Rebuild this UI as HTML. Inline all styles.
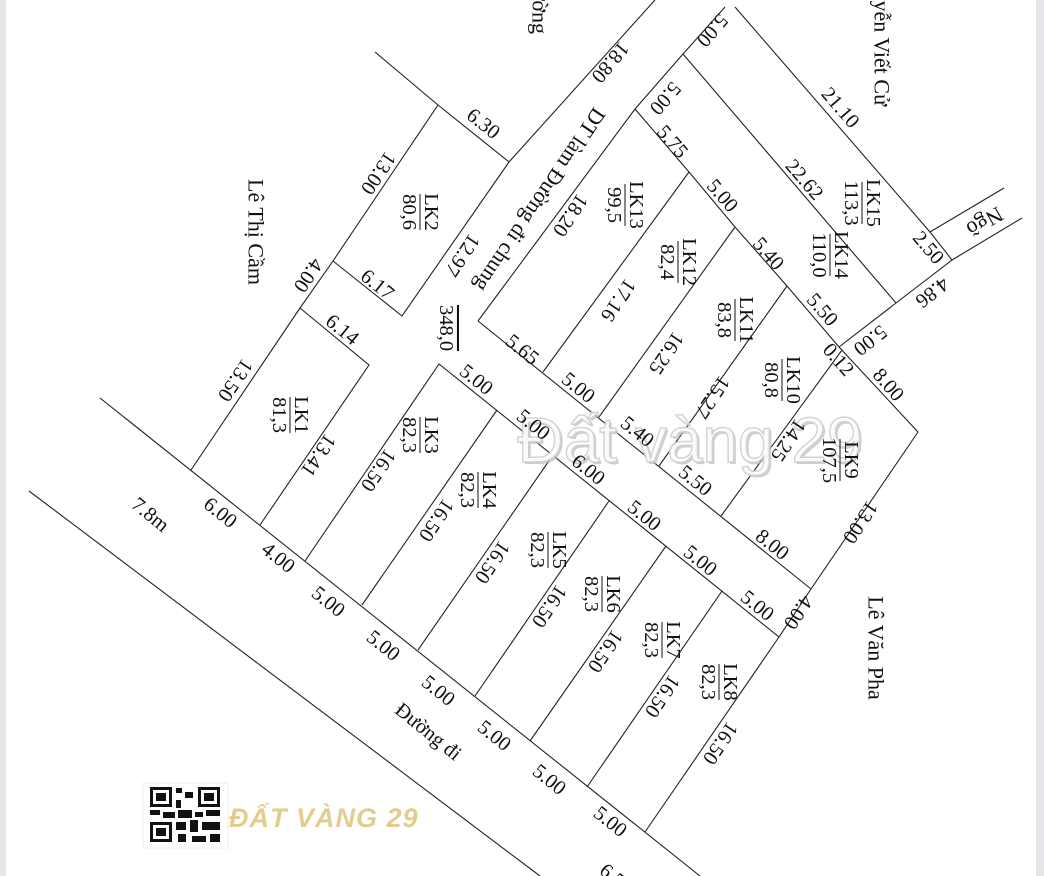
<!DOCTYPE html>
<html><head><meta charset="utf-8"><style>
html,body{margin:0;padding:0;background:#fff;}
svg{display:block;}
text{font-family:"Liberation Serif",serif;font-size:20.5px;fill:#111;}
.w{font-family:"Liberation Sans","DejaVu Sans",sans-serif;}
.s{font-size:22px;}
</style></head><body>
<svg width="1044" height="876" viewBox="0 0 1044 876" xmlns="http://www.w3.org/2000/svg">
<rect x="0" y="0" width="1044" height="876" fill="#fff"/>
<rect x="0" y="0" width="6" height="876" fill="#e6e6ea"/>
<rect x="1036" y="0" width="8" height="876" fill="#e6e6ea"/>
<g stroke="#222" stroke-width="1.1" fill="none">
<polyline points="375,52 438,105 509,162"/>
<polyline points="438,105 333,261 300,308 191,470"/>
<polyline points="333,261 402,316 509,162"/>
<polyline points="300,308 369,365 260,525"/>
<line x1="509" y1="162" x2="655" y2="0"/>
<line x1="100" y1="398" x2="700" y2="876"/>
<line x1="29" y1="491" x2="540" y2="876"/>
<polyline points="305,561 439,364 779,637 811,589 918,432"/>
<line x1="362" y1="605" x2="497" y2="410"/>
<line x1="418" y1="650" x2="553" y2="455"/>
<line x1="475" y1="696" x2="609" y2="501"/>
<line x1="530" y1="741" x2="666" y2="546"/>
<line x1="587" y1="787" x2="722" y2="591"/>
<line x1="645" y1="832" x2="779" y2="637"/>
<polyline points="478,321 635,109 683,54 725,7"/>
<line x1="478" y1="321" x2="811" y2="589"/>
<polyline points="635,109 689,172 735,227 787,286 839,347 918,432"/>
<line x1="683" y1="54" x2="896" y2="303"/>
<polyline points="735,7 930,232 952,260 896,303 839,347"/>
<line x1="930" y1="232" x2="1004" y2="188"/>
<line x1="952" y1="260" x2="1022" y2="218"/>
<line x1="689" y1="172" x2="543" y2="372"/>
<line x1="735" y1="227" x2="599" y2="417"/>
<line x1="787" y1="286" x2="659" y2="466"/>
<line x1="842" y1="350" x2="721" y2="516"/>
</g>
<text x="692" y="464" class="w" text-anchor="middle" style="font-size:64px;fill:#bbb;opacity:0.7">Đất vàng 29</text>
<text x="690" y="462" class="w" text-anchor="middle" style="font-size:64px;fill:#fff;stroke:#d0d0d0;stroke-width:1.5;opacity:0.9">Đất vàng 29</text>

<g>
<text class="s" transform="translate(256,232) rotate(90)" text-anchor="middle" dominant-baseline="central">Lê Thị Cầm</text>
<text class="s" transform="translate(876,648) rotate(90)" text-anchor="middle" dominant-baseline="central">Lê Văn Pha</text>
<text class="s" transform="translate(882,106) rotate(90)" text-anchor="end" dominant-baseline="central">Nguyễn Viết Cử</text>
<text class="s" transform="translate(540,34) rotate(90)" text-anchor="end" dominant-baseline="central">Đường</text>
<text class="s" transform="translate(540,200) rotate(124)" text-anchor="middle" dominant-baseline="central">DT làm Đường đi chung</text>
<text class="s" transform="translate(985,222) rotate(150)" text-anchor="middle" dominant-baseline="central">Ngõ</text>
<text transform="translate(150,515) rotate(39)" text-anchor="middle" dominant-baseline="central">7.8m</text>
<text transform="translate(428,732) rotate(39)" text-anchor="middle" dominant-baseline="central">Đường đi</text>
<text transform="translate(612,876) rotate(39)" text-anchor="middle" dominant-baseline="central">6.5</text>
<text transform="translate(446,328) rotate(90)" text-anchor="middle" dominant-baseline="central" style="text-decoration:overline">348,0</text>
</g>

<g text-anchor="middle" dominant-baseline="central">
<g transform="translate(420,212) rotate(90)"><text y="-11">LK2</text><line x1="-18" x2="18" y1="0" y2="0" stroke="#111"/><text y="11">80,6</text></g>
<g transform="translate(290,415) rotate(90)"><text y="-11">LK1</text><line x1="-18" x2="18" y1="0" y2="0" stroke="#111"/><text y="11">81,3</text></g>
<g transform="translate(420,435) rotate(90)"><text y="-11">LK3</text><line x1="-18" x2="18" y1="0" y2="0" stroke="#111"/><text y="11">82,3</text></g>
<g transform="translate(478,490) rotate(90)"><text y="-11">LK4</text><line x1="-18" x2="18" y1="0" y2="0" stroke="#111"/><text y="11">82,3</text></g>
<g transform="translate(548,550) rotate(90)"><text y="-11">LK5</text><line x1="-18" x2="18" y1="0" y2="0" stroke="#111"/><text y="11">82,3</text></g>
<g transform="translate(602,594) rotate(90)"><text y="-11">LK6</text><line x1="-18" x2="18" y1="0" y2="0" stroke="#111"/><text y="11">82,3</text></g>
<g transform="translate(662,640) rotate(90)"><text y="-11">LK7</text><line x1="-18" x2="18" y1="0" y2="0" stroke="#111"/><text y="11">82,3</text></g>
<g transform="translate(719,682) rotate(90)"><text y="-11">LK8</text><line x1="-18" x2="18" y1="0" y2="0" stroke="#111"/><text y="11">82,3</text></g>
<g transform="translate(625,205) rotate(90)"><text y="-11">LK13</text><line x1="-21" x2="21" y1="0" y2="0" stroke="#111"/><text y="11">99,5</text></g>
<g transform="translate(678,262) rotate(90)"><text y="-11">LK12</text><line x1="-21" x2="21" y1="0" y2="0" stroke="#111"/><text y="11">82,4</text></g>
<g transform="translate(735,320) rotate(90)"><text y="-11">LK11</text><line x1="-21" x2="21" y1="0" y2="0" stroke="#111"/><text y="11">83,8</text></g>
<g transform="translate(782,380) rotate(90)"><text y="-11">LK10</text><line x1="-21" x2="21" y1="0" y2="0" stroke="#111"/><text y="11">80,8</text></g>
<g transform="translate(840,460) rotate(90)"><text y="-11">LK9</text><line x1="-21" x2="21" y1="0" y2="0" stroke="#111"/><text y="11">107,5</text></g>
<g transform="translate(830,255) rotate(90)"><text y="-11">LK14</text><line x1="-21" x2="21" y1="0" y2="0" stroke="#111"/><text y="11">110,0</text></g>
<g transform="translate(862,203) rotate(90)"><text y="-11">LK15</text><line x1="-21" x2="21" y1="0" y2="0" stroke="#111"/><text y="11">113,3</text></g>
</g>

<g text-anchor="middle" dominant-baseline="central">
<text transform="translate(483,124) rotate(39)">6.30</text>
<text transform="translate(378,173) rotate(124)">13.00</text>
<text transform="translate(308,275) rotate(124)">4.00</text>
<text transform="translate(377,285) rotate(39)">6.17</text>
<text transform="translate(462,255) rotate(124)">12.97</text>
<text transform="translate(342,330) rotate(39)">6.14</text>
<text transform="translate(235,380) rotate(124)">13.50</text>
<text transform="translate(318,455) rotate(124)">13.41</text>
<text transform="translate(220,513) rotate(39)">6.00</text>
<text transform="translate(278,558) rotate(39)">4.00</text>
<text transform="translate(328,602) rotate(39)">5.00</text>
<text transform="translate(383,646) rotate(39)">5.00</text>
<text transform="translate(438,691) rotate(39)">5.00</text>
<text transform="translate(494,736) rotate(39)">5.00</text>
<text transform="translate(549,780) rotate(39)">5.00</text>
<text transform="translate(610,822) rotate(39)">5.00</text>
<text transform="translate(378,470) rotate(124)">16.50</text>
<text transform="translate(436,520) rotate(124)">16.50</text>
<text transform="translate(492,562) rotate(124)">16.50</text>
<text transform="translate(549,606) rotate(124)">16.50</text>
<text transform="translate(605,651) rotate(124)">16.50</text>
<text transform="translate(662,696) rotate(124)">16.50</text>
<text transform="translate(720,743) rotate(124)">16.50</text>
<text transform="translate(476,380) rotate(39)">5.00</text>
<text transform="translate(533,425) rotate(39)">5.00</text>
<text transform="translate(588,470) rotate(39)">6.00</text>
<text transform="translate(644,516) rotate(39)">5.00</text>
<text transform="translate(700,561) rotate(39)">5.00</text>
<text transform="translate(757,606) rotate(39)">5.00</text>
<text transform="translate(798,612) rotate(124)">4.00</text>
<text transform="translate(860,522) rotate(124)">13.00</text>
<text transform="translate(522,350) rotate(39)">5.65</text>
<text transform="translate(578,388) rotate(39)">5.00</text>
<text transform="translate(637,432) rotate(39)">5.40</text>
<text transform="translate(695,481) rotate(39)">5.50</text>
<text transform="translate(772,545) rotate(39)">8.00</text>
<text transform="translate(610,62) rotate(130)">18.80</text>
<text transform="translate(712,30) rotate(131)">5.00</text>
<text transform="translate(665,98) rotate(131)">5.00</text>
<text transform="translate(672,142) rotate(49)">5.75</text>
<text transform="translate(722,196) rotate(49)">5.00</text>
<text transform="translate(768,254) rotate(49)">5.40</text>
<text transform="translate(822,310) rotate(49)">5.50</text>
<text transform="translate(838,360) rotate(49)">0.12</text>
<text transform="translate(888,385) rotate(49)">8.00</text>
<text transform="translate(570,215) rotate(124)">18.20</text>
<text transform="translate(618,300) rotate(124)">17.16</text>
<text transform="translate(666,353) rotate(124)">16.25</text>
<text transform="translate(712,397) rotate(124)">15.27</text>
<text transform="translate(788,440) rotate(124)">14.25</text>
<text transform="translate(840,108) rotate(49)">21.10</text>
<text transform="translate(804,180) rotate(49)">22.62</text>
<text transform="translate(928,248) rotate(49)">2.50</text>
<text transform="translate(932,292) rotate(142)">4.86</text>
<text transform="translate(870,340) rotate(142)">5.00</text>
</g>

<rect x="143" y="783" width="85" height="65" fill="#fff" stroke="#ddd" stroke-width="0.5"/>
<g fill="#111">
<rect x="150" y="787" width="22" height="20"/><rect x="153" y="790" width="16" height="14" fill="#fff"/><rect x="156" y="793" width="10" height="8"/>
<rect x="198" y="787" width="22" height="20"/><rect x="201" y="790" width="16" height="14" fill="#fff"/><rect x="204" y="793" width="10" height="8"/>
<rect x="150" y="822" width="22" height="20"/><rect x="153" y="825" width="16" height="14" fill="#fff"/><rect x="156" y="828" width="10" height="8"/>
<rect x="176" y="788" width="6" height="5"/><rect x="185" y="792" width="8" height="6"/><rect x="176" y="800" width="5" height="8"/>
<rect x="150" y="810" width="10" height="5"/><rect x="163" y="812" width="12" height="6"/><rect x="178" y="810" width="14" height="8"/>
<rect x="195" y="812" width="8" height="5"/><rect x="206" y="810" width="14" height="6"/><rect x="176" y="822" width="10" height="8"/>
<rect x="190" y="820" width="8" height="12"/><rect x="202" y="822" width="18" height="8"/><rect x="178" y="834" width="8" height="8"/>
<rect x="192" y="836" width="14" height="6"/><rect x="210" y="834" width="10" height="8"/>
</g>
<text x="229" y="827" class="w" style="font-size:27px;font-weight:bold;font-style:italic;fill:#e2cc8e;letter-spacing:1px">ĐẤT VÀNG 29</text>
</svg>
</body></html>
